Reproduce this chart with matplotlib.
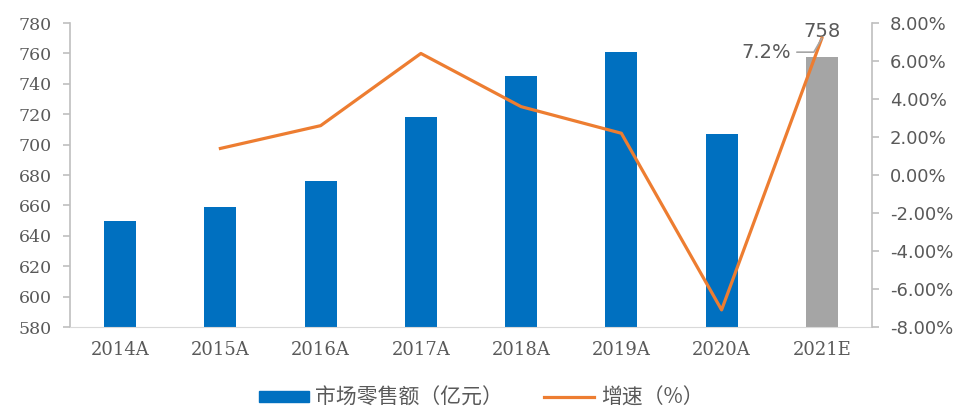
import matplotlib.pyplot as plt
import numpy as np
from matplotlib.patches import Patch
from matplotlib.lines import Line2D

# data
years = ['2014A', '2015A', '2016A', '2017A', '2018A', '2019A', '2020A', '2021E']
sales = [650, 659, 676, 718, 745, 761, 707, 758]          # 市场零售额（亿元）
growth = [np.nan, 1.4, 2.6, 6.4, 3.6, 2.2, -7.1, 7.2]     # 增速（%）
bar_colors = ['#0070C0'] * 7 + ['#A5A5A5']

text_c = '#595959'
axis_c = '#BFBFBF'

fig = plt.figure(figsize=(9.62, 4.12), dpi=100)
ax = fig.add_axes([0.0728, 0.2063, 0.8336, 0.7377])
x = np.arange(len(years))

bars = ax.bar(x, sales, width=0.32, color=bar_colors, zorder=2)
ax.set_ylim(580, 780)
ax.set_yticks(range(580, 781, 20))
ax.set_xlim(-0.5, len(years) - 0.5)
ax.set_xticks(x)
ax.set_xticklabels(years, fontsize=13, family='DejaVu Serif', color=text_c)
for lab in ax.get_yticklabels():
    lab.set_family('DejaVu Serif')
    lab.set_fontsize(12.5)
    lab.set_color(text_c)
ax.tick_params(axis='x', length=0, pad=10)
ax.tick_params(axis='y', length=5, color=axis_c, width=1.2, pad=8)
ax.spines['top'].set_visible(False)
ax.spines['right'].set_visible(False)
ax.spines['left'].set_color(axis_c)
ax.spines['left'].set_linewidth(1.2)
ax.spines['bottom'].set_color('#D9D9D9')

ax2 = ax.twinx()
line, = ax2.plot(x, growth, color='#ED7D31', lw=2.3, zorder=3)
ax2.set_ylim(-8, 8)
ax2.set_yticks(range(-8, 9, 2))
ax2.set_yticklabels([f'{v:.2f}%' for v in range(-8, 9, 2)], fontsize=13,
                    family='DejaVu Sans', color=text_c)
ax2.tick_params(axis='y', length=5, color=axis_c, width=1.2, pad=8)
for s in ['top', 'left', 'bottom']:
    ax2.spines[s].set_visible(False)
ax2.spines['right'].set_color(axis_c)
ax2.spines['right'].set_linewidth(1.2)

# annotations on the last point
ax.annotate(f'{sales[-1]}', xy=(x[-1], sales[-1]), xytext=(0, 11),
            textcoords='offset points', ha='center', va='bottom',
            fontsize=14, color=text_c, zorder=5)
ax2.annotate(f'{growth[-1]}%', xy=(x[-1], growth[-1]), xytext=(-22, -10),
             textcoords='offset points', ha='right', va='center',
             fontsize=14, color=text_c,
             arrowprops=dict(arrowstyle='-', color='#A6A6A6', lw=1.2,
                             connectionstyle='angle,angleA=0,angleB=60,rad=0',
                             shrinkA=2, shrinkB=0))

handles = [Patch(color='#0070C0'), Line2D([], [], color='#ED7D31', lw=2.3)]
fig.legend(handles, ['市场零售额（亿元）', '增速（%）'], loc='center',
           bbox_to_anchor=(0.5, 0.035), ncol=2, frameon=False,
           prop={'family': ['Noto Sans CJK SC', 'DejaVu Sans'], 'size': 15},
           labelcolor=text_c, handlelength=2.4, handleheight=0.45,
           columnspacing=2.0, handletextpad=0.3, borderpad=0.2)

fig.savefig('out.png', dpi=100)
